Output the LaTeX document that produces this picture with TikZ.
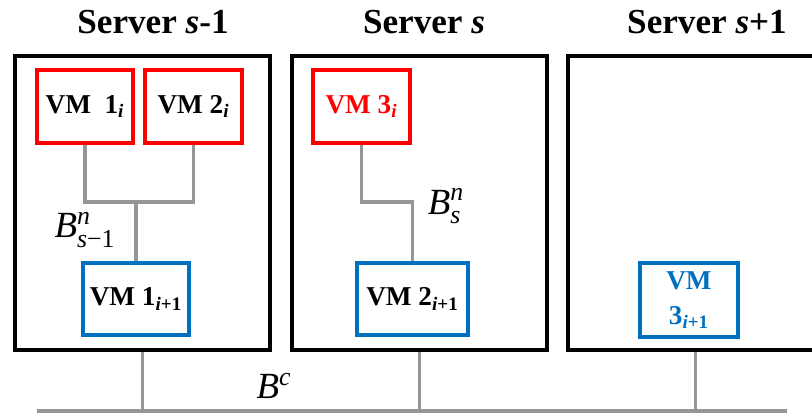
\documentclass[tikz,border=0pt]{standalone}
\usepackage{amsmath}
\usepackage{fontspec}
\setmainfont{Liberation Serif}
\usepackage{tikz}
\usetikzlibrary{calc,positioning}
\definecolor{vmred}{RGB}{255,0,0}
\definecolor{vmblue}{RGB}{0,112,192}
\definecolor{linkgray}{RGB}{150,150,150}

\begin{document}
\begin{tikzpicture}[x=0.02cm,y=-0.02cm,
    server/.style={draw,line width=2.2pt,minimum width=5.1cm,minimum height=5.88cm,inner sep=0pt},
    vmold/.style={draw=vmred,line width=2.1pt,minimum height=1.46cm,inner sep=0pt,font=\fontsize{15.5}{20}\selectfont\bfseries},
    vmnew/.style={draw=vmblue,line width=2.1pt,minimum height=1.44cm,inner sep=0pt,align=center,font=\fontsize{15.5}{20}\selectfont\bfseries},
    link/.style={draw=linkgray,line width=2.2pt},
    title/.style={anchor=base,font=\fontsize{20}{24}\selectfont\bfseries},
    bw/.style={font=\fontsize{21}{24}\selectfont}]
                 \clip (0,0) rectangle (812,414);
                 \node[title](t1)at(153,33){Server \textit{s}-1};
                 \node[title](t2)at(424,33){Server \textit{s}};
                 \node[title](t3)at(707,33){Server \textit{s}+1};
                 \node[server](srv1)at(142.5,203){};
                 \node[server](srv2)at(419.5,203){};
                 \node[server](srv3)at(695.5,203){};
                 \node[vmold,minimum width=1.92cm](vm1)at(85,106.5){VM\ \ 1$_{\textit{i}}$};
                 \node[vmold,minimum width=1.94cm](vm2)at(193.5,106.5){VM 2$_{\textit{i}}$};
                 \node[vmold,minimum width=1.94cm,text=vmred](vm3)at(361.5,106.5){VM 3$_{\textit{i}}$};
                 \node[vmnew,minimum width=2.12cm](vm11)at(136,299){VM 1$_{\text{\textit{i}+1}}$};
                 \node[vmnew,minimum width=2.22cm](vm21)at(412.5,299){VM 2$_{\text{\textit{i}+1}}$};
                 \node[vmnew,minimum width=1.96cm,minimum height=1.48cm,text=vmblue](vm31)at(689,300){VM\\3$_{\text{\textit{i}+1}}$};
                 \coordinate(j1)at(136,202);
                 \coordinate(j2)at(vm3.south|-j1);
                 \draw[link](vm1.south)|-(j1)-|(vm2.south);
                 \draw[link](j1)--(vm11.north);
                 \draw[link](vm3.south)--(j2)-|(vm21.north);
                 \coordinate(busl)at(37,411);
                 \coordinate(busr)at(787,411);
                 \draw[link](busl)--(busr);
                 \foreach \s in {srv1,srv2,srv3}
                   \draw[link](\s.south)--(\s.south|-busl);
                 \node[bw](b1)at(85,230){\textit{B}$^{\textit{n}}_{\text{\textit{s}−1}}$};
                 \node[bw](b2)at(446,206){\textit{B}$^{\textit{n}}_{\textit{s}}$};
                 \node[bw](bc)at(274,386){\textit{B}$^{\textit{c}}$};
               \end{tikzpicture}
\end{document}
